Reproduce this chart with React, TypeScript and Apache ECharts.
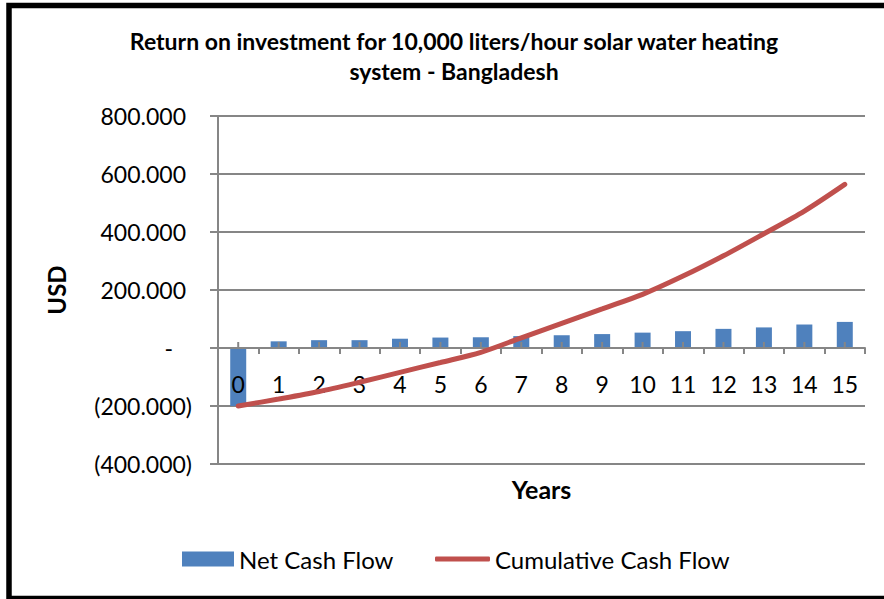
import React, { useEffect, useRef } from "react";
import * as echarts from "echarts";

const years = ["0", "1", "2", "3", "4", "5", "6", "7", "8", "9", "10", "11", "12", "13", "14", "15"];
const netCashFlow = [-200000, 23000, 27000, 27000, 32000, 36000, 37000, 41000, 44000, 48000, 53000, 58000, 66000, 71000, 81000, 90000];
const cumulativeCashFlow = [-200000, -176000, -150000, -118000, -84000, -50000, -15000, 35000, 85000, 135000, 185000, 248000, 318000, 394000, 472000, 564000];
const yTicks = { min: -400000, max: 800000, interval: 200000 };

const FONT = "Lato";
const GRAY = "#868686";

function fmt(v: number): string {
  return String(Math.abs(v)).replace(/\B(?=(\d{3})+(?!\d))/g, ".");
}

export default function App() {
  const ref = useRef<HTMLDivElement>(null);
  useEffect(() => {
    if (!ref.current) return;
    const chart = echarts.init(ref.current, undefined, { renderer: "svg" });
    const gridTop = 116;
    const gridBottom = 135;
    const plotH = 599 - gridTop - gridBottom;
    const zeroOffset = -plotH * (0 - yTicks.min) / (yTicks.max - yTicks.min);
    chart.setOption({
      animation: false,
      backgroundColor: "#ffffff",
      title: {
        text: "Return on investment for 10,000 liters/hour solar water heating\nsystem - Bangladesh",
        left: 449,
        top: 21,
        textAlign: "center",
        textStyle: { fontFamily: FONT, fontWeight: "bold", fontSize: 23, lineHeight: 30, color: "#000" },
      },
      legend: [
        {
          data: [{ name: "Net Cash Flow", icon: "rect" }],
          left: 177,
          top: 542,
          itemWidth: 52,
          itemHeight: 15,
          itemGap: 6,
          textStyle: { fontFamily: FONT, fontSize: 24, color: "#000" },
        },
        {
          data: [{ name: "Cumulative Cash Flow", icon: "roundRect" }],
          left: 430,
          top: 542,
          itemWidth: 55,
          itemHeight: 5,
          textStyle: { fontFamily: FONT, fontSize: 24, color: "#000" },
        },
      ],
      grid: { left: 218, right: 19, top: gridTop, bottom: gridBottom, containLabel: false, outerBoundsMode: "none" },
      xAxis: {
        type: "category",
        data: years,
        boundaryGap: true,
        position: "bottom",
        offset: zeroOffset,
        z: 3,
        name: "Years",
        nameLocation: "middle",
        nameGap: 128,
        nameTextStyle: { fontFamily: FONT, fontWeight: "bold", fontSize: 25, color: "#000" },
        axisLine: { show: true, onZero: false, lineStyle: { color: GRAY, width: 2 } },
        axisTick: { show: true, alignWithLabel: false, length: 6, lineStyle: { color: GRAY, width: 2 } },
        axisLabel: { margin: 24, fontFamily: FONT, fontSize: 23, color: "#000" },
        splitLine: { show: false },
      },
      yAxis: {
        type: "value",
        min: yTicks.min,
        max: yTicks.max,
        interval: yTicks.interval,
        name: "USD",
        nameLocation: "middle",
        nameGap: 150,
        nameRotate: 90,
        nameTextStyle: { fontFamily: FONT, fontWeight: "bold", fontSize: 24, color: "#000" },
        axisLine: { show: true, lineStyle: { color: GRAY, width: 2 } },
        axisTick: { show: true, length: 8, lineStyle: { color: GRAY, width: 2 } },
        splitLine: { show: true, lineStyle: { color: GRAY, width: 2 } },
        axisLabel: {
          margin: 26,
          fontFamily: FONT,
          fontSize: 23,
          color: "#000",
          formatter: (v: number) =>
            v === 0 ? "{d|-}" : v < 0 ? "{n|(" + fmt(v) + ")}" : "{p|" + fmt(v) + "}",
          rich: {
            p: { fontFamily: FONT, fontSize: 23, color: "#000", padding: [0, 6, 0, 0] },
            n: { fontFamily: FONT, fontSize: 23, color: "#000" },
            d: { fontFamily: FONT, fontSize: 23, color: "#000", padding: [0, 19, 0, 0] },
          },
        },
      },
      series: [
        {
          name: "Net Cash Flow",
          type: "bar",
          data: netCashFlow,
          barWidth: 16,
          itemStyle: { color: "#4F81BD" },
        },
        {
          name: "Cumulative Cash Flow",
          type: "line",
          data: cumulativeCashFlow,
          smooth: 0.3,
          symbol: "none",
          z: 4,
          lineStyle: { color: "#C0504D", width: 5, cap: "round" },
          itemStyle: { color: "#C0504D" },
        },
        {
          name: "centerTicks",
          type: "custom",
          z: 3,
          silent: true,
          data: years.map((_, i) => [i, 0]),
          renderItem: (_params: any, api: any) => {
            const p = api.coord([api.value(0), api.value(1)]);
            return {
              type: "line",
              shape: { x1: p[0], y1: p[1], x2: p[0], y2: p[1] - 6 },
              style: { stroke: GRAY, lineWidth: 2 },
            };
          },
        },
      ],
      graphic: [
        {
          type: "rect",
          shape: { x: 9, y: 5.5, width: 890, height: 593 },
          style: { fill: "none", stroke: "#000", lineWidth: 5.5 },
          z: 100,
        },
      ],
    });
    return () => chart.dispose();
  }, []);
  return (
    <div
      ref={ref}
      style={{ position: "absolute", left: 0, top: 0, width: 884, height: 599 }}
    />
  );
}
